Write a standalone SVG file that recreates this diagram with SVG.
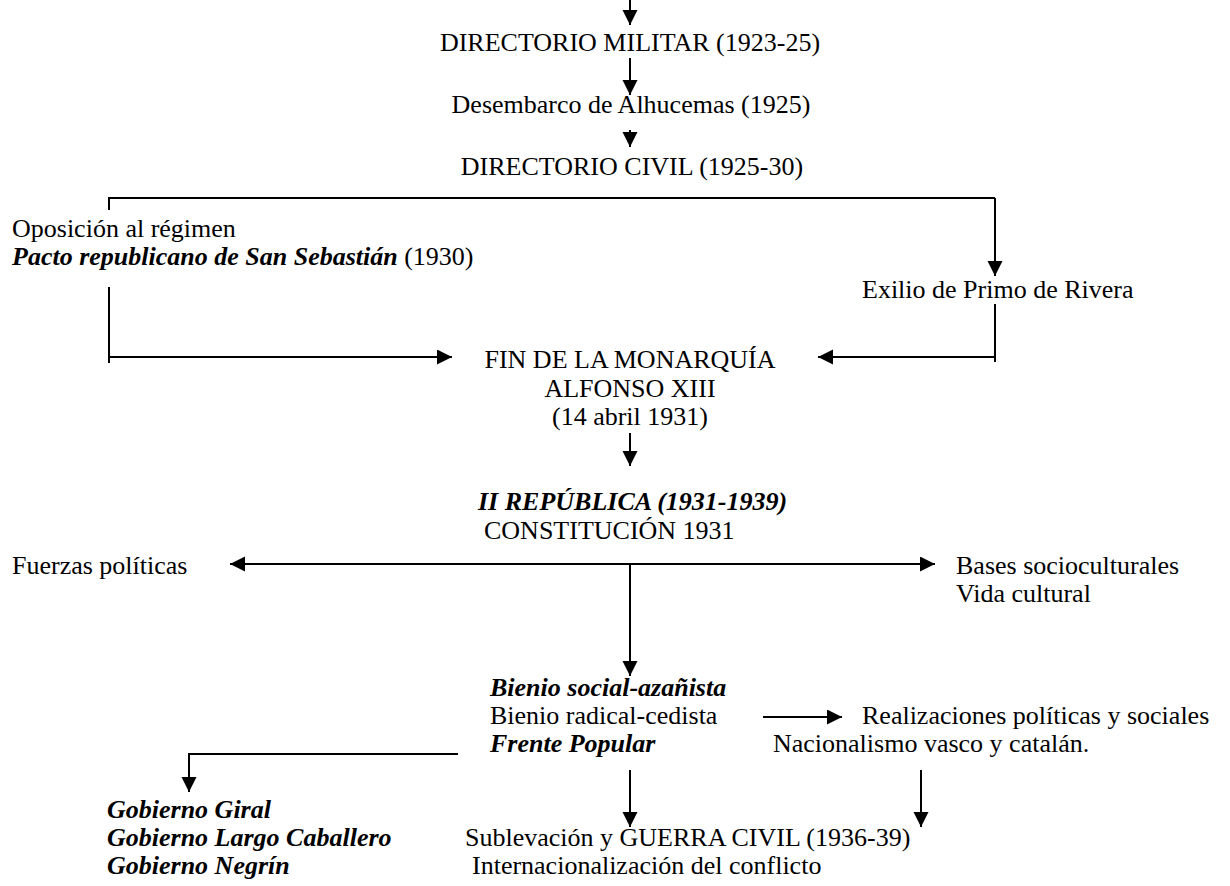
<svg xmlns="http://www.w3.org/2000/svg" width="1230" height="886" viewBox="0 0 1230 886">
<defs>
<marker id="ah" markerUnits="userSpaceOnUse" markerWidth="16" markerHeight="16" refX="15" refY="7.5" orient="auto">
<path d="M0,0 L15,7.5 L0,15 z" fill="#000"/>
</marker>
<style>
text{font-family:"Liberation Serif","Times New Roman",serif;font-size:26px;fill:#000}
.bi{font-weight:bold;font-style:italic}
.c{text-anchor:middle}
.ln{fill:none;stroke:#000;stroke-width:2}
.ar{fill:none;stroke:#000;stroke-width:2;marker-end:url(#ah)}
</style>
</defs>
<rect width="1230" height="886" fill="#fff"/>
<g id="connectors">
<line class="ar" x1="630" y1="0" x2="630" y2="25"/>
<line class="ar" x1="630" y1="58" x2="630" y2="95"/>
<line class="ar" x1="630" y1="130" x2="630" y2="147"/>
<polyline class="ln" points="109,210 109,198 995,198"/>
<line class="ar" x1="995" y1="198" x2="995" y2="276"/>
<line class="ln" x1="109" y1="287" x2="109" y2="363"/>
<line class="ar" x1="109" y1="357" x2="452" y2="357"/>
<line class="ln" x1="995" y1="304" x2="995" y2="362"/>
<line class="ar" x1="995" y1="357" x2="818" y2="357"/>
<line class="ar" x1="630" y1="433" x2="630" y2="466"/>
<line class="ar" x1="630" y1="564" x2="230" y2="564"/>
<line class="ar" x1="630" y1="564" x2="935" y2="564"/>
<line class="ar" x1="630" y1="564" x2="630" y2="676"/>
<line class="ar" x1="763" y1="717" x2="842" y2="717"/>
<polyline class="ar" points="458,754 189,754 189,792"/>
<line class="ar" x1="630" y1="770" x2="630" y2="827"/>
<line class="ar" x1="921" y1="770" x2="921" y2="827"/>
</g>
<g id="n-militar"><text class="c" x="630" y="51">DIRECTORIO MILITAR (1923-25)</text></g>
<g id="n-alhucemas"><text class="c" x="631" y="113">Desembarco de Alhucemas (1925)</text></g>
<g id="n-civil"><text class="c" x="632" y="175">DIRECTORIO CIVIL (1925-30)</text></g>
<g id="n-oposicion">
<text x="12" y="237">Oposición al régimen</text>
<text x="12" y="265"><tspan class="bi">Pacto republicano de San Sebastián</tspan> (1930)</text>
</g>
<g id="n-exilio"><text x="862" y="298">Exilio de Primo de Rivera</text></g>
<g id="n-fin">
<text class="c" x="630" y="368">FIN DE LA MONARQUÍA</text>
<text class="c" x="630" y="397">ALFONSO XIII</text>
<text class="c" x="630" y="425">(14 abril 1931)</text>
</g>
<g id="n-republica">
<text class="bi" x="478" y="510">II REPÚBLICA (1931-1939)</text>
<text x="484" y="539">CONSTITUCIÓN 1931</text>
</g>
<g id="n-fuerzas"><text x="12" y="574">Fuerzas políticas</text></g>
<g id="n-bases">
<text x="956" y="574">Bases socioculturales</text>
<text x="956" y="602">Vida cultural</text>
</g>
<g id="n-bienios">
<text class="bi" x="490" y="696">Bienio social-azañista</text>
<text x="490" y="724">Bienio radical-cedista</text>
<text class="bi" x="490" y="752">Frente Popular</text>
</g>
<g id="n-realizaciones">
<text x="862" y="724">Realizaciones políticas y sociales</text>
<text x="773" y="752">Nacionalismo vasco y catalán.</text>
</g>
<g id="n-gobiernos">
<text class="bi" x="107" y="818">Gobierno Giral</text>
<text class="bi" x="107" y="846">Gobierno Largo Caballero</text>
<text class="bi" x="107" y="874">Gobierno Negrín</text>
</g>
<g id="n-guerra">
<text x="465" y="846">Sublevación y GUERRA CIVIL (1936-39)</text>
<text x="472" y="874">Internacionalización del conflicto</text>
</g>
</svg>
